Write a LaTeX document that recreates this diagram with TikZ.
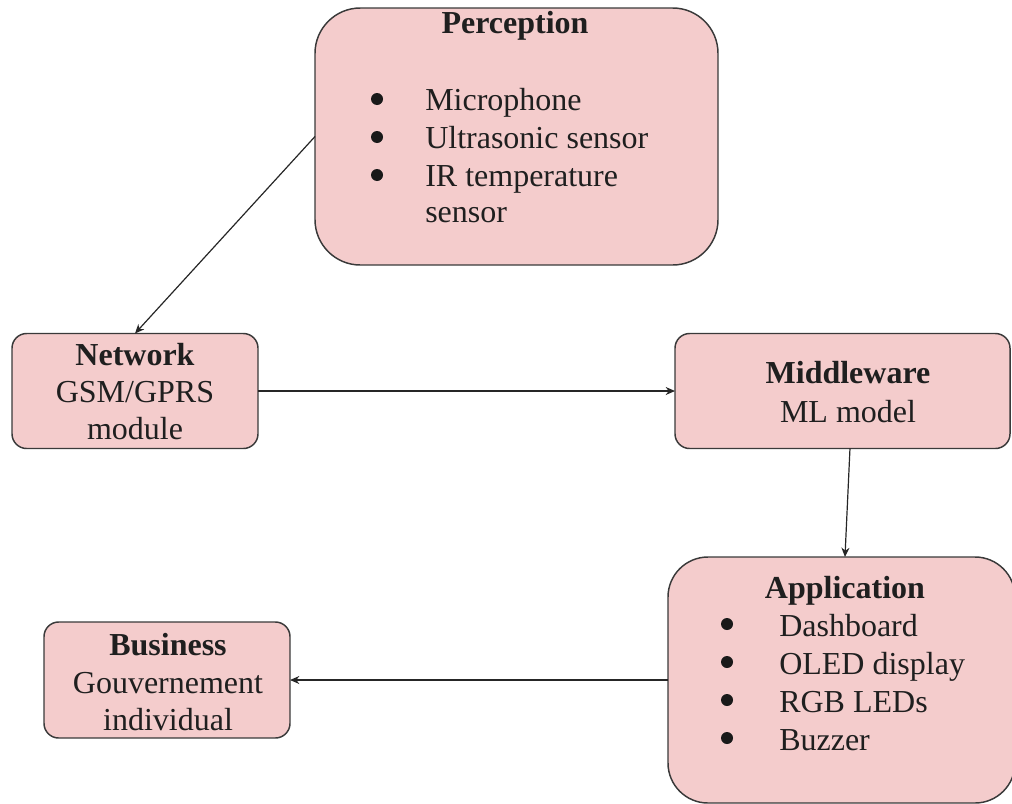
\documentclass[tikz,border=0pt]{standalone}
\usepackage{fontspec}
\setmainfont{Liberation Serif}
\usetikzlibrary{arrows.meta}
\definecolor{boxfill}{HTML}{F4CCCC}
\definecolor{boxline}{HTML}{3A3A3A}
\begin{document}
\begin{tikzpicture}[x=0.75pt,y=-0.75pt,
  layer/.style={draw=boxline, line width=1.1pt, fill=boxfill, inner sep=0pt, outer sep=0pt},
  lbl/.style={font=\fontsize{24}{28}\selectfont, text=black!88, inner sep=0pt},
  head/.style={lbl, font=\fontsize{24}{28}\selectfont\bfseries, anchor=base},
  line/.style={lbl, anchor=base},
  item/.style={lbl, anchor=base west},
  dot/.style={circle, fill=black!90, inner sep=0pt, minimum size=9pt},
  arr/.style={-{Stealth[length=7pt,width=6pt]}, line width=0.9pt, draw=black!85}]
\useasboundingbox (0,0) rectangle (1012,803);
\clip (0,0) rectangle (1012,803);

% layer boxes
\node[layer, rounded corners=34pt, minimum width={403*0.75pt}, minimum height={257*0.75pt}] (perc) at (516.5,136.5) {};
\node[layer, rounded corners=11pt, minimum width={246*0.75pt}, minimum height={115*0.75pt}] (net) at (135,391) {};
\node[layer, rounded corners=11pt, minimum width={335*0.75pt}, minimum height={115*0.75pt}] (mid) at (842.5,391) {};
\node[layer, rounded corners=30pt, minimum width={347*0.75pt}, minimum height={246*0.75pt}] (app) at (841.5,680) {};
\node[layer, rounded corners=11pt, minimum width={246*0.75pt}, minimum height={116*0.75pt}] (bus) at (167,680) {};

% Perception
\node[head] (percT) at (515,33) {Perception};
\node[dot] (pd1) at (377,99) {};
\node[dot] (pd2) at (377,137) {};
\node[dot] (pd3) at (377,175) {};
\node[item] (pi1) at (425,110) {Microphone};
\node[item] (pi2) at (425,148) {Ultrasonic sensor};
\node[item] (pi3) at (425,186) {IR temperature};
\node[item] (pi4) at (425,222) {sensor};

% Network
\node[head] (netT) at (135,365) {Network};
\node[line] (net1) at (135,402) {GSM/GPRS};
\node[line] (net2) at (135,439) {module};

% Middleware
\node[head] (midT) at (848,383) {Middleware};
\node[line] (mid1) at (848,422) {ML model};

% Application
\node[head] (appT) at (845,598) {Application};
\node[dot] (ad1) at (727,624) {};
\node[dot] (ad2) at (727,662) {};
\node[dot] (ad3) at (727,700) {};
\node[dot] (ad4) at (727,738) {};
\node[item] (ai1) at (779,636) {Dashboard};
\node[item] (ai2) at (779,674) {OLED display};
\node[item] (ai3) at (779,712) {RGB LEDs};
\node[item] (ai4) at (779,750) {Buzzer};

% Business
\node[head] (busT) at (168,655) {Business};
\node[line] (bus1) at (168,693) {Gouvernement};
\node[line] (bus2) at (168,730) {individual};

% data flow between layers
\draw[arr] (perc.west) -- (net.north);
\draw[arr] (net.east) -- (mid.west);
\draw[arr] ([xshift=5.6pt]mid.south) -- ([xshift=2.6pt]app.north);
\draw[arr] (app.west) -- (bus.east);
\end{tikzpicture}
\end{document}
